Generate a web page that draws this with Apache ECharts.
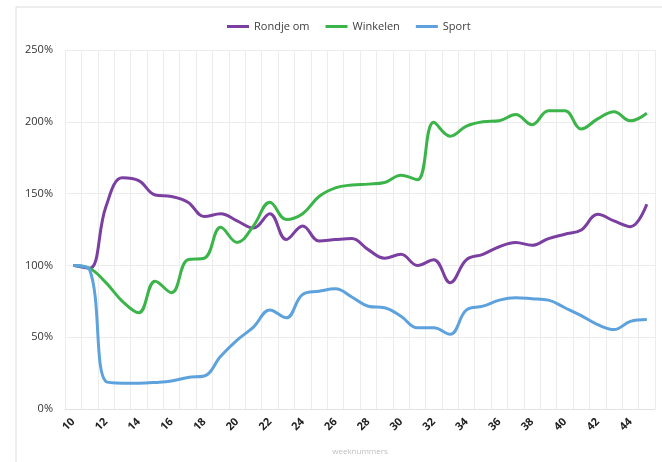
<!DOCTYPE html>
<html>
<head>
<meta charset="utf-8">
<script src="https://cdn.jsdelivr.net/npm/echarts@6/dist/echarts.min.js"></script>
<style>html,body{margin:0;padding:0;background:#fff;}#c{width:662px;height:462px;}</style>
</head>
<body>
<div id="c"></div>
<script>
const weeks = ['10','11','12','13','14','15','16','17','18','19','20','21','22','23','24','25','26','27','28','29','30','31','32','33','34','35','36','37','38','39','40','41','42','43','44','45'];
const rondjeOm = [100,98,141,161,159,149,148,144,134,136,131,126,136,118,127.5,117,118,118.7,111,105,107.7,100,104,88,104,107.7,113,116,114,118.7,121.7,124.7,135.6,131,127,142.6];
const winkelen = [100,98,88,75,67,89,81,104,105,126.5,116,127.5,144,132,136,148,154,156,156.6,157.7,162.8,159.6,199.6,190,197,200,200.7,205,198,207.7,207.7,195,202,207,200.7,206];
const sport = [100,97,19,18,18,18.5,19.5,22,23,36.7,48,57,69,63.5,79.8,82,83.7,78,71.6,70.5,64.6,56.5,56.5,52,69,71.6,75.8,77.5,76.8,75.8,70.5,65,58.8,55.3,61,62.3];
const yTicks = {min: 0, max: 250, interval: 50};

const chart = echarts.init(document.getElementById('c'));
const font = 'Open Sans, Liberation Sans, sans-serif';
chart.setOption({
  animation: false,
  textStyle: {fontFamily: font},
  graphic: [{type: 'rect', shape: {x: 16, y: 7, width: 700, height: 520}, style: {fill: 'none', stroke: '#dcdcdc', lineWidth: 1}, silent: true}],
  legend: {
    top: 16, left: 222,
    itemWidth: 22, itemHeight: 3, itemGap: 16,
    icon: 'rect',
    textStyle: {fontSize: 11, color: '#404040', fontFamily: font},
    data: ['Rondje om', 'Winkelen', 'Sport']
  },
  grid: {left: 65, right: 7, top: 50, bottom: 53},
  xAxis: {
    type: 'category', data: weeks, boundaryGap: true,
    name: 'weeknummers', nameLocation: 'middle', nameGap: 39,
    nameTextStyle: {fontSize: 8, color: '#c0c0c0'},
    axisLine: {show: true, lineStyle: {color: '#e2e2e2'}},
    axisTick: {show: false},
    axisLabel: {interval: 1, rotate: 45, fontSize: 11, color: '#222', margin: 11, fontWeight: 'bold'},
    splitLine: {show: true, interval: 0, lineStyle: {color: '#ececec'}}
  },
  yAxis: {
    type: 'value', min: yTicks.min, max: yTicks.max, interval: yTicks.interval,
    axisLine: {show: false}, axisTick: {show: false},
    axisLabel: {formatter: '{value}%', fontSize: 11, color: '#333', margin: 12},
    splitLine: {lineStyle: {color: '#ececec'}}
  },
  series: [
    {name: 'Rondje om', type: 'line', data: rondjeOm, smooth: 0.4, showSymbol: false, lineStyle: {width: 3}, color: '#7A3FA0'},
    {name: 'Winkelen', type: 'line', data: winkelen, smooth: 0.4, showSymbol: false, lineStyle: {width: 3}, color: '#3BB54A'},
    {name: 'Sport', type: 'line', data: sport, smooth: 0.4, showSymbol: false, lineStyle: {width: 3}, color: '#5DA1DD'}
  ]
});
</script>
</body>
</html>
